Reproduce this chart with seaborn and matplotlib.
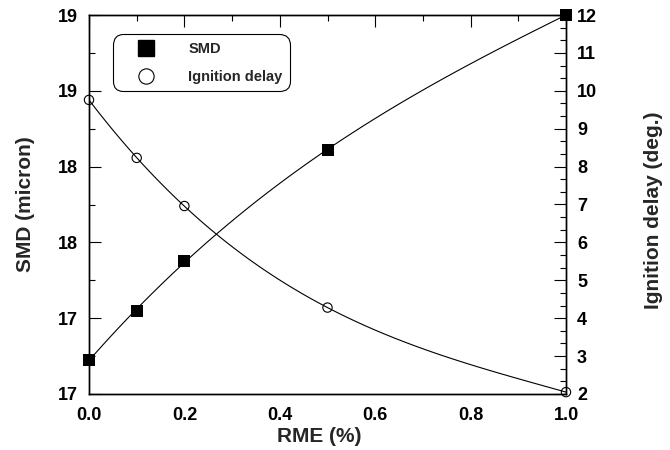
import matplotlib
matplotlib.use("Agg")
import matplotlib.pyplot as plt
import seaborn as sns
import numpy as np
import pandas as pd
from matplotlib.lines import Line2D
from matplotlib.ticker import MultipleLocator, FixedLocator, FixedFormatter, FormatStrFormatter

rme = [0.0, 0.1, 0.2, 0.5, 1.0]
smd = [17.18, 17.44, 17.70, 18.29, 19.0]
ignition = [9.76, 8.23, 6.96, 4.28, 2.05]
smd_tick_labels = ["17", "17", "18", "18", "19", "19"]
series_names = ["SMD", "Ignition delay"]

sns.set_theme(style="white")
plt.rcParams["font.family"] = ["Liberation Sans", "DejaVu Sans"]
plt.rcParams["font.weight"] = "bold"

df = pd.DataFrame({"rme": rme, "smd": smd, "ign": ignition})

fig = plt.figure(figsize=(6.7, 4.5), dpi=100)
ax = fig.add_axes([89 / 670, 1 - 394 / 450, 477 / 670, 379 / 450])
ax2 = ax.twinx()

# SMD curve + markers
sns.regplot(data=df, x="rme", y="smd", order=3, ci=None, scatter=False, truncate=True,
            ax=ax, line_kws=dict(color="black", lw=0.8))
sns.scatterplot(data=df, x="rme", y="smd", ax=ax, marker="s", s=80, color="black",
                edgecolor="black", linewidth=0, clip_on=False, zorder=5)

# Ignition delay curve + markers
sns.regplot(data=df, x="rme", y="ign", order=3, ci=None, scatter=False, truncate=True,
            ax=ax2, line_kws=dict(color="black", lw=0.8))
sns.scatterplot(data=df, x="rme", y="ign", ax=ax2, marker="o", s=45, facecolor="none",
                edgecolor="black", linewidth=0.8, clip_on=False, zorder=5)

ax.set_xlim(0, 1.0)
ax.set_ylim(17.0, 19.0)
ax2.set_ylim(2, 12)

ax.xaxis.set_major_locator(MultipleLocator(0.2))
ax.xaxis.set_minor_locator(MultipleLocator(0.1))
ax.xaxis.set_major_formatter(FormatStrFormatter("%.1f"))
ax.yaxis.set_major_locator(FixedLocator(np.linspace(17.0, 19.0, len(smd_tick_labels))))
ax.yaxis.set_major_formatter(FixedFormatter(smd_tick_labels))
ax.yaxis.set_minor_locator(MultipleLocator(0.2))
ax2.yaxis.set_major_locator(MultipleLocator(1))
ax2.yaxis.set_minor_locator(MultipleLocator(1 / 3))

ax.tick_params(axis="both", which="both", direction="in", colors="black", width=0.8,
               labelsize=13, top=True, right=False)
ax.tick_params(axis="both", which="major", length=8.5)
ax.tick_params(axis="both", which="minor", length=4)
ax.tick_params(axis="x", which="major", pad=9)
ax.tick_params(axis="y", which="major", pad=8)
ax2.tick_params(axis="y", which="both", direction="in", colors="black", width=0.8,
                labelsize=13, pad=8)
ax2.tick_params(axis="y", which="major", length=8.5)
ax2.tick_params(axis="y", which="minor", length=4)

for a in (ax, ax2):
    for sp in a.spines.values():
        sp.set_color("black")
        sp.set_linewidth(1.0)
    for lab in a.get_xticklabels() + a.get_yticklabels():
        lab.set_fontweight("bold")

ax.set_xlabel("RME (%)", fontsize=15, fontweight="bold")
ax.set_ylabel("SMD (micron)", fontsize=15, fontweight="bold")
ax2.set_ylabel("Ignition delay (deg.)", fontsize=15, fontweight="bold", rotation=90)
ax.xaxis.set_label_coords(0.482, -0.088)
ax.yaxis.set_label_coords(-0.113, 0.5)
ax2.yaxis.set_label_coords(1.163, 0.4855)

handles = [
    Line2D([], [], linestyle="none", marker="s", markersize=12, color="black"),
    Line2D([], [], linestyle="none", marker="o", markersize=11, markerfacecolor="white",
           markeredgecolor="black", markeredgewidth=0.8),
]
leg = ax.legend(handles, series_names, loc="upper left", bbox_to_anchor=(0.0497, 0.949),
                borderaxespad=0, borderpad=0.5, handlelength=3.6, handletextpad=1.07,
                labelspacing=1.0, frameon=True, fancybox=True,
                prop=dict(size=10.5, weight="bold"))
frame = leg.get_frame()
frame.set_edgecolor("black")
frame.set_linewidth(0.8)
frame.set_facecolor("white")
frame.set_alpha(1)
frame.set_boxstyle("round", pad=0, rounding_size=0.7)

fig.savefig("out.png", dpi=100)
